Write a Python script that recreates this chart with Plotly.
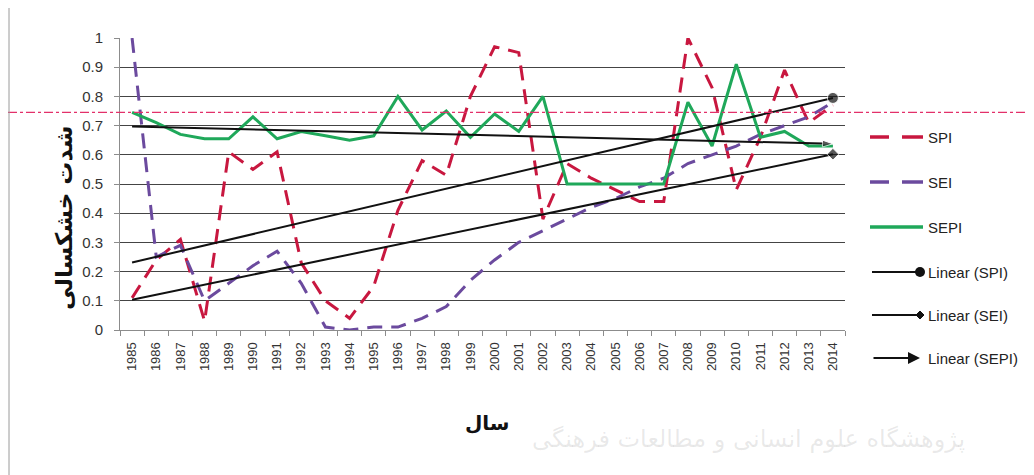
import numpy as np
import plotly.graph_objects as go

# ---------------- data ----------------
years = list(range(1985, 2015))
spi = [0.11, 0.24, 0.31, 0.03, 0.61, 0.55, 0.61, 0.23, 0.10, 0.04,
       0.15, 0.41, 0.58, 0.53, 0.80, 0.97, 0.95, 0.38, 0.57, 0.52,
       0.48, 0.44, 0.44, 1.00, 0.83, 0.48, 0.66, 0.89, 0.71, 0.77]
sei = [1.00, 0.25, 0.29, 0.10, 0.16, 0.22, 0.27, 0.16, 0.01, 0.00,
       0.01, 0.01, 0.04, 0.08, 0.17, 0.24, 0.30, 0.34, 0.38, 0.42,
       0.45, 0.49, 0.52, 0.57, 0.60, 0.63, 0.67, 0.70, 0.73, 0.78]
sepi = [0.745, 0.71, 0.67, 0.655, 0.655, 0.73, 0.655, 0.68, 0.665, 0.65,
        0.665, 0.80, 0.685, 0.75, 0.66, 0.74, 0.68, 0.80, 0.50, 0.50,
        0.50, 0.50, 0.50, 0.78, 0.63, 0.91, 0.66, 0.68, 0.63, 0.63]
threshold = 0.745
y_ticks = [0, 0.1, 0.2, 0.3, 0.4, 0.5, 0.6, 0.7, 0.8, 0.9, 1]
y_tick_text = ["0", "0.1", "0.2", "0.3", "0.4", "0.5", "0.6", "0.7", "0.8", "0.9", "1"]
legend_names = ["SPI", "SEI", "SEPI", "Linear (SPI)", "Linear (SEI)", "Linear (SEPI)"]
y_title = "شدت خشکسالی"
x_title = "سال"
watermark = "پژوهشگاه علوم انسانی و مطالعات فرهنگی"

# ---------------- styles ----------------
RED = "#c8173f"
PURPLE = "#6b4a9e"
GREEN = "#1fa85a"
BLACK = "#111111"

W, H = 1034, 475
OFF = 8  # page body margin
# plot area in screen pixels
SL, SR, ST, SB = 120, 845, 38, 330
PL, PR, PT, PB = SL - OFF, SR - OFF, ST - OFF, SB - OFF


def px(x):
    return (x - SL) / (SR - SL)


def py(y):
    return (SB - y) / (SB - ST)


x = np.array(years, dtype=float)


def trend(vals):
    k, b = np.polyfit(x, np.array(vals), 1)
    return [k * x[0] + b, k * x[-1] + b]


fig = go.Figure()

fig.add_trace(go.Scatter(x=years, y=spi, mode="lines", name="SPI",
                         line=dict(color=RED, width=3, dash="15px,9px")))
fig.add_trace(go.Scatter(x=years, y=sei, mode="lines", name="SEI",
                         line=dict(color=PURPLE, width=3, dash="15px,9px")))
fig.add_trace(go.Scatter(x=years, y=sepi, mode="lines", name="SEPI",
                         line=dict(color=GREEN, width=3)))

tx = [years[0], years[-1]]
fig.add_trace(go.Scatter(x=tx, y=trend(spi), mode="lines+markers", name="Linear (SPI)",
                         line=dict(color=BLACK, width=2),
                         marker=dict(size=[0, 11], symbol="circle", color=BLACK),
                         cliponaxis=False))
fig.add_trace(go.Scatter(x=tx, y=trend(sei), mode="lines+markers", name="Linear (SEI)",
                         line=dict(color=BLACK, width=2),
                         marker=dict(size=[0, 9], symbol="diamond", color=BLACK),
                         cliponaxis=False))
fig.add_trace(go.Scatter(x=tx, y=trend(sepi), mode="lines+markers", name="Linear (SEPI)",
                         line=dict(color=BLACK, width=2),
                         marker=dict(size=[0, 11], symbol="arrow", angleref="previous", color=BLACK),
                         cliponaxis=False))

shapes = []
annotations = []

# threshold dash-dot line across whole figure
shapes.append(dict(type="line", xref="paper", yref="y", x0=px(OFF), x1=px(W + OFF),
                   y0=threshold, y1=threshold,
                   line=dict(color="#e3306a", width=1.2, dash="dashdot"), layer="above"))
# left border of chart area
shapes.append(dict(type="line", xref="paper", yref="paper", x0=px(9), x1=px(9),
                   y0=py(0), y1=py(490), line=dict(color="#9a9a9a", width=1)))

# manual legend
leg_y = [137, 182, 227, 272, 315, 358]
for i, (nm, yy) in enumerate(zip(legend_names, leg_y)):
    if i < 2:
        col = RED if i == 0 else PURPLE
        for a, b in [(870, 889), (902, 923)]:
            shapes.append(dict(type="line", xref="paper", yref="paper",
                               x0=px(a), x1=px(b), y0=py(yy), y1=py(yy),
                               line=dict(color=col, width=3.5)))
    elif i == 2:
        shapes.append(dict(type="line", xref="paper", yref="paper",
                           x0=px(870), x1=px(923), y0=py(yy), y1=py(yy),
                           line=dict(color=GREEN, width=3.5)))
    elif i == 3:
        shapes.append(dict(type="line", xref="paper", yref="paper",
                           x0=px(872), x1=px(920), y0=py(yy), y1=py(yy),
                           line=dict(color=BLACK, width=2)))
        shapes.append(dict(type="circle", xref="paper", yref="paper",
                           x0=px(915), x1=px(925), y0=py(yy - 5), y1=py(yy + 5),
                           fillcolor=BLACK, line=dict(color=BLACK, width=0)))
    elif i == 4:
        shapes.append(dict(type="line", xref="paper", yref="paper",
                           x0=px(872), x1=px(920), y0=py(yy), y1=py(yy),
                           line=dict(color=BLACK, width=2)))
        d = 4
        path = "M {},{} L {},{} L {},{} L {},{} Z".format(
            px(920 - d), py(yy), px(920), py(yy - d), px(920 + d), py(yy), px(920), py(yy + d))
        shapes.append(dict(type="path", xref="paper", yref="paper", path=path,
                           fillcolor=BLACK, line=dict(color=BLACK, width=1)))
    else:
        annotations.append(dict(xref="paper", yref="paper", x=px(920), y=py(yy),
                                ax=-48, ay=0,
                                showarrow=True, arrowhead=2, arrowsize=1.2, arrowwidth=2,
                                arrowcolor=BLACK, text=""))
    annotations.append(dict(xref="paper", yref="paper", x=px(926), y=py(yy),
                            xanchor="left", yanchor="middle", showarrow=False,
                            text=nm, font=dict(family="Liberation Sans", size=15, color="#222")))

# axis titles
annotations.append(dict(xref="paper", yref="paper", x=px(49), y=py(218),
                        text="<b>" + y_title + "</b>", textangle=-90, showarrow=False,
                        font=dict(family="DejaVu Sans", size=23, color="#111")))
annotations.append(dict(xref="paper", yref="paper", x=px(487), y=py(437),
                        text="<b>" + x_title + "</b>", showarrow=False,
                        font=dict(family="DejaVu Sans", size=20, color="#111")))
# faint watermark text
annotations.append(dict(xref="paper", yref="paper", x=px(530), y=py(455),
                        xanchor="left", text=watermark, showarrow=False,
                        font=dict(family="DejaVu Sans", size=24, color="rgba(120,120,120,0.16)")))

fig.update_layout(
    width=W, height=H,
    margin=dict(l=PL, r=W - PR, t=PT, b=H - PB, pad=0),
    paper_bgcolor="white", plot_bgcolor="white",
    showlegend=False,
    shapes=shapes, annotations=annotations,
    xaxis=dict(range=[1984.5, 2014.5], tickmode="array", tickvals=years,
               ticktext=[str(v) for v in years], tickangle=-90, ticks="",
               tickfont=dict(family="Liberation Sans", size=13, color="#333"),
               showgrid=False, zeroline=False, showline=True, linecolor="#8c8c8c", linewidth=1,
               minor=dict(tick0=1984.5, dtick=1, ticks="outside", ticklen=5,
                          tickcolor="#8c8c8c", showgrid=False),
               ticklabelstandoff=6, automargin=False),
    yaxis=dict(range=[0, 1], tickmode="array", tickvals=y_ticks, ticktext=y_tick_text,
               tickfont=dict(family="Liberation Sans", size=15, color="#333"),
               showgrid=True, gridcolor="#444444", gridwidth=1, zeroline=False,
               showline=True, linecolor="#8c8c8c", linewidth=1,
               ticks="outside", ticklen=5, tickcolor="#8c8c8c", ticklabelstandoff=8,
               automargin=False),
)

fig.write_html("out.html")
